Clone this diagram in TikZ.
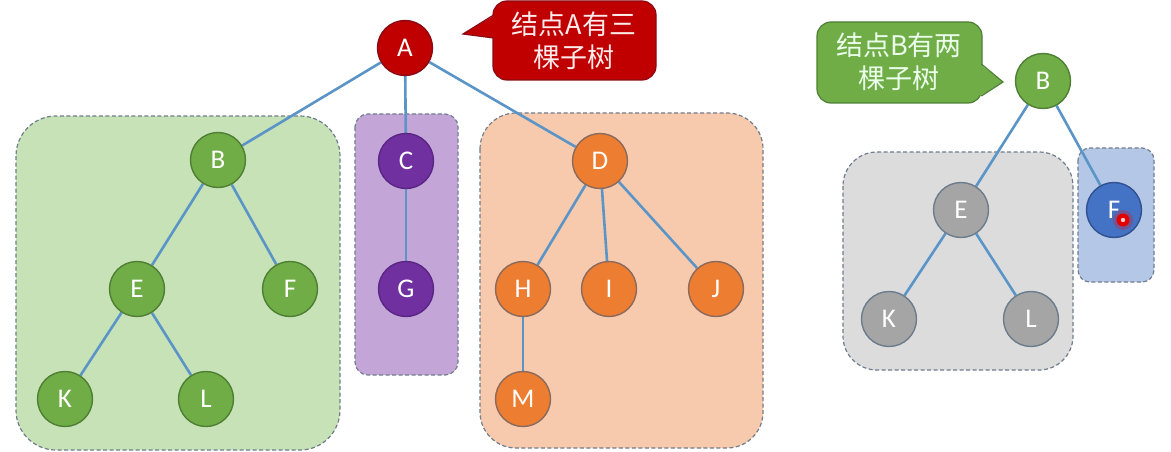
\documentclass[tikz,border=0pt]{standalone}
\usepackage{fontspec}
\newfontfamily\nodefont{Carlito}
\newfontfamily\cjk{Noto Sans CJK SC}
\pgfdeclarelayer{bg}
\pgfdeclarelayer{edges}
\pgfsetlayers{bg,edges,main}
\definecolor{gnode}{HTML}{70AD47}\definecolor{gline}{HTML}{4E7F34}\definecolor{gbox}{HTML}{C7E2B6}
\definecolor{pnode}{HTML}{7030A0}\definecolor{pline}{HTML}{5A2585}\definecolor{pbox}{HTML}{C3A6D7}
\definecolor{onode}{HTML}{ED7D31}\definecolor{oline}{HTML}{8A6A5C}\definecolor{obox}{HTML}{F7CAAD}
\definecolor{ynode}{HTML}{A5A5A5}\definecolor{yline}{HTML}{6C7C8C}\definecolor{ybox}{HTML}{DCDCDC}
\definecolor{bnode}{HTML}{4472C4}\definecolor{bline}{HTML}{2F528F}\definecolor{bbox}{HTML}{B4C7E7}
\definecolor{rnode}{HTML}{C00000}\definecolor{rline}{HTML}{8B0A14}
\definecolor{edgec}{HTML}{5B95C8}\definecolor{dashc}{HTML}{6F7D8C}
\tikzset{
  tn/.style={circle,minimum size=55pt,inner sep=0pt,line width=1.4pt,text=white,
    font=\nodefont\fontsize{27}{27}\selectfont},
  gn/.style={tn,fill=gnode,draw=gline},
  pn/.style={tn,fill=pnode,draw=pline},
  on/.style={tn,fill=onode,draw=oline},
  yn/.style={tn,fill=ynode,draw=yline},
  bn/.style={tn,fill=bnode,draw=bline},
  rn/.style={tn,fill=rnode,draw=rline},
  edge/.style={draw=edgec,line width=2.6pt},
  groupbox/.style={draw=dashc,line width=1.2pt,dash pattern=on 4pt off 2.5pt},
  calltext/.style={align=center,font=\cjk\fontsize{27}{33}\selectfont,inner sep=0pt}
}
\begin{document}
\begin{tikzpicture}[x=1pt,y=-1pt]
\useasboundingbox (0,0) rectangle (1171,452);
% nodes left tree
\node[rn] (A) at (405,48) {A};
\node[gn] (B) at (218,160) {B};
\node[gn] (E) at (137,289) {E};
\node[gn] (F) at (290,289) {F};
\node[gn] (K) at (65,399) {K};
\node[gn] (L) at (206,399) {L};
\node[pn] (C) at (406,161) {C};
\node[pn] (G) at (406,289) {G};
\node[on] (D) at (600,161) {D};
\node[on] (H) at (523,289) {H};
\node[on] (I) at (609,289) {I};
\node[on] (J) at (716,289) {J};
\node[on] (M) at (523,399) {M};
% right tree
\node[gn] (B2) at (1043,81) {B};
\node[yn] (E2) at (961,210) {E};
\node[yn] (K2) at (889,319) {K};
\node[yn] (L2) at (1031,319) {L};
\node[bn] (F2) at (1114,210) {F};
% red pointer dot
\fill[red,opacity=0.25] (1123,220) circle (10);
\fill[red!90!black] (1123,220) circle (6.5);
\fill[white,opacity=0.8] (1123,220) circle (2.2);
% edges
\begin{pgfonlayer}{edges}
\draw[edge] (A) -- (B);
\draw[edge] (A) -- (C);
\draw[edge] (A) -- (D);
\draw[edge] (B) -- (E);
\draw[edge] (B) -- (F);
\draw[edge] (E) -- (K);
\draw[edge] (E) -- (L);
\draw[edge] (C) -- (G);
\draw[edge] (D) -- (H);
\draw[edge] (D) -- (I);
\draw[edge] (D) -- (J);
\draw[edge] (H) -- (M);
\draw[edge] (B2) -- (E2);
\draw[edge] (B2) -- (F2);
\draw[edge] (E2) -- (K2);
\draw[edge] (E2) -- (L2);
\end{pgfonlayer}
% group boxes
\begin{pgfonlayer}{bg}
\fill[white] (0,0) rectangle (1171,452);
\path[groupbox,fill=gbox,rounded corners=40pt] (16,116) rectangle (340,450);
\path[groupbox,fill=pbox,rounded corners=13pt] (355,114) rectangle (458,375);
\path[groupbox,fill=obox,rounded corners=36pt] (480,113) rectangle (763,448);
\path[groupbox,fill=ybox,rounded corners=34pt] (843,152) rectangle (1073,370);
\path[groupbox,fill=bbox,rounded corners=12pt] (1078,148) rectangle (1154,282);
\end{pgfonlayer}
% callout A
\path[fill=rnode,draw=rline,line width=1.2pt,rounded corners=14pt] (493,1) rectangle (656,80);
\fill[rnode] (463,34) -- (495,38) -- (495,15) -- cycle;
\draw[rline,line width=1.2pt,line join=miter] (493.6,15) -- (463,34) -- (493.6,38);
\node[calltext,text=white!92!red] (ta) at (574,41) {结点A有三\\棵子树};
% callout B
\path[fill=gnode,draw=gline,line width=1.2pt,rounded corners=14pt] (817,22) rectangle (982,103);
\fill[gnode] (1003,82) -- (980,96) -- (980,64) -- cycle;
\draw[gline,line width=1.2pt,line join=miter] (981.4,64) -- (1003,82) -- (981.4,96);
\node[calltext,text=white!92!green] (tb) at (899,62) {结点B有两\\棵子树};
\end{tikzpicture}
\end{document}
